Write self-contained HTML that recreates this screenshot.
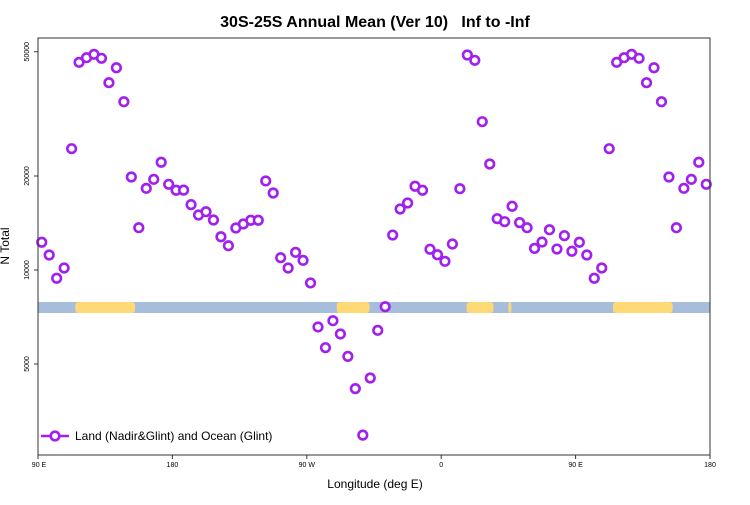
<!DOCTYPE html>
<html><head><meta charset="utf-8"><style>
body{margin:0;background:#fff}
svg text{font-family:"Liberation Sans",sans-serif}
</style></head><body>
<svg id="chart" width="750" height="500" xmlns="http://www.w3.org/2000/svg">
<rect width="750" height="500" fill="#fff"/>
<text x="375" y="27" text-anchor="middle" font-size="16" font-weight="bold">30S-25S Annual Mean (Ver 10)&#160;&#160;&#160;Inf to -Inf</text>
<g id="mask"></g>
<g id="pts"></g>
<rect x="38" y="38" width="672" height="417" fill="none" stroke="#333" stroke-width="1"/>
<g id="xaxis"></g>
<g id="yaxis"></g>
<text x="375" y="488" text-anchor="middle" font-size="12">Longitude (deg E)</text>
<text transform="translate(9,246) rotate(-90)" text-anchor="middle" font-size="12">N Total</text>
<g>
<line x1="41" y1="436" x2="69" y2="436" stroke="#a020f0" stroke-width="2.5"/>
<circle cx="55" cy="436" r="4.3" fill="#fff" stroke="#a020f0" stroke-width="2.6"/>
<text x="75" y="440" font-size="12">Land (Nadir&amp;Glint) and Ocean (Glint)</text>
</g>
</svg>
<script>
const lons=[];for(let i=0;i<90;i++)lons.push(2.5+5*i); // degrees east of 90E
const base=[12270,11170,9410,10150,24460,46240,47840,49050,47630,39790,44430,34580,19850,13660,18260,19510,22130,18810,18000,18020,16190,15000,15370,14460,12780,11960,13630,14040,14430,14430,19280,17640,10950,10150,11390,10740,9090,6570,5640,6880,6240,5290,4170,2960,4510,6410,7630,12940,15680,16390,18540,18000,11650,11190,10660,12110,18210,48800,46930,29850,21850,14600,14280,16000,14180,13660,11730,12290,13460,11670,12880,11480];
const values=base.concat(base.slice(0,18));
const xTickLabels=["90 E","180","90 W","0","90 E","180"];
const xTickPos=[0,90,180,270,360,450];
const yTicks=[5000,10000,20000,50000];
const landSegments=[[25,65],[200,222],[287,305],[315,317],[385,425]];
const NS="http://www.w3.org/2000/svg";
const x=d=>38+d*672/450;
const y=v=>270-312.3*(Math.log10(v)-4);
function mk(t,a,p){const e=document.createElementNS(NS,t);for(const k in a)e.setAttribute(k,a[k]);p.appendChild(e);return e;}
const mask=document.getElementById('mask');
const bg=mk('rect',{x:38,y:302,width:672,height:11,fill:'#a6bddb'},mask);


landSegments.forEach(s=>{const r=mk('rect',{x:x(s[0]),y:302,width:x(s[1])-x(s[0]),height:11,rx:3,fill:'#ffd976'},mask);

});
const pts=document.getElementById('pts');
values.forEach((v,i)=>{const c=mk('circle',{cx:x(lons[i]),cy:y(v),r:4.3,fill:'#fff',stroke:'#a020f0','stroke-width':2.6},pts);

});
const xa=document.getElementById('xaxis');
xTickPos.forEach((d,i)=>{mk('line',{x1:x(d),y1:455,x2:x(d),y2:459,stroke:'#333'},xa);
const t=mk('text',{x:x(d)+(i==0?1:0),y:467,'text-anchor':'middle','font-size':7},xa);t.textContent=xTickLabels[i];

});
const ya=document.getElementById('yaxis');
yTicks.forEach(v=>{mk('line',{x1:34,y1:y(v),x2:38,y2:y(v),stroke:'#333'},ya);
const t=mk('text',{transform:`translate(29,${y(v)}) rotate(-90)`,'text-anchor':'middle','font-size':7},ya);t.textContent=v;

});
</script>
</body></html>
